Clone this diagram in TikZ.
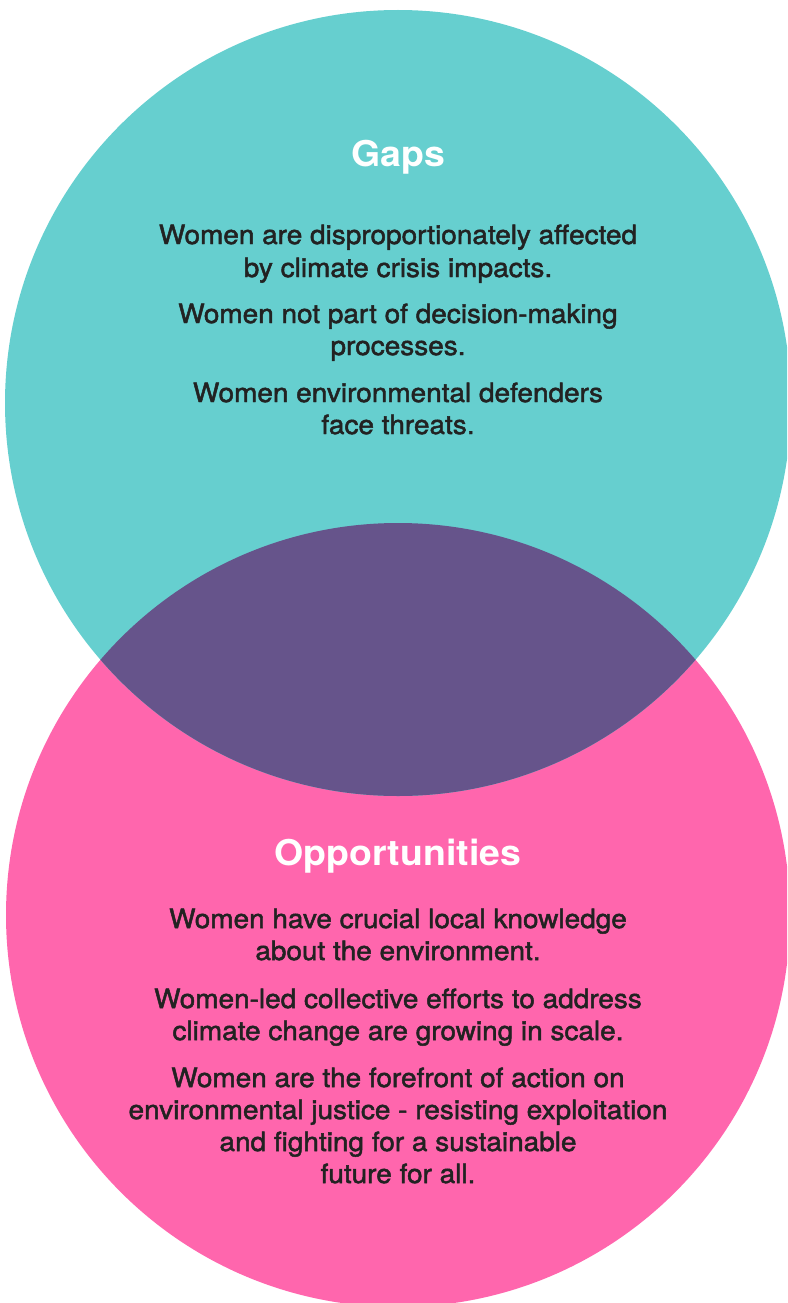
\documentclass[tikz,border=0pt]{standalone}
\usepackage{fontspec}
\setmainfont[FakeStretch=1.055]{TeX Gyre Heros}
\newfontfamily\bodyfont[FakeBold=1.8,FakeStretch=1.055]{TeX Gyre Heros}
\definecolor{teal1}{HTML}{66CFCF}
\definecolor{pink1}{HTML}{FF66AD}
\definecolor{purple1}{HTML}{66548B}
\definecolor{ink}{HTML}{222222}
\tikzset{
  heading/.style={anchor=base, inner sep=0pt, text=white, font=\fontsize{35.5}{40}\selectfont\bfseries},
  bodyline/.style={anchor=base, inner sep=0pt, text=ink, font=\fontsize{26.5}{32}\bodyfont},
}
\begin{document}
\begin{tikzpicture}[x=1pt,y=-1pt]
\useasboundingbox (0,0) rectangle (787,1303);
\clip (0,0) rectangle (787,1303);
\fill[pink1] (398,915) circle[radius=392];
\fill[teal1] (398,403) circle[radius=393];
\begin{scope}
  \clip (398,403) circle[radius=393];
  \fill[purple1] (398,915) circle[radius=392];
\end{scope}
\node[heading] (gaps) at (398,166) {Gaps};
\node[bodyline] (g1) at (398,244) {Women are disproportionately affected};
\node[bodyline] (g2) at (398,277) {by climate crisis impacts.};
\node[bodyline] (g3) at (398,323) {Women not part of decision-making};
\node[bodyline] (g4) at (398,355) {processes.};
\node[bodyline] (g5) at (398,402) {Women environmental defenders};
\node[bodyline] (g6) at (398,434) {face threats.};
\node[heading] (opp) at (398,865) {Opportunities};
\node[bodyline] (o1) at (398,928) {Women have crucial local knowledge};
\node[bodyline] (o2) at (398,960) {about the environment.};
\node[bodyline] (o3) at (398,1008) {Women-led collective efforts to address};
\node[bodyline] (o4) at (398,1040) {climate change are growing in scale.};
\node[bodyline] (o5) at (398,1087) {Women are the forefront of action on};
\node[bodyline] (o6) at (398,1119) {environmental justice - resisting exploitation};
\node[bodyline] (o7) at (398,1151) {and fighting for a sustainable};
\node[bodyline] (o8) at (398,1183) {future for all.};
\end{tikzpicture}
\end{document}
